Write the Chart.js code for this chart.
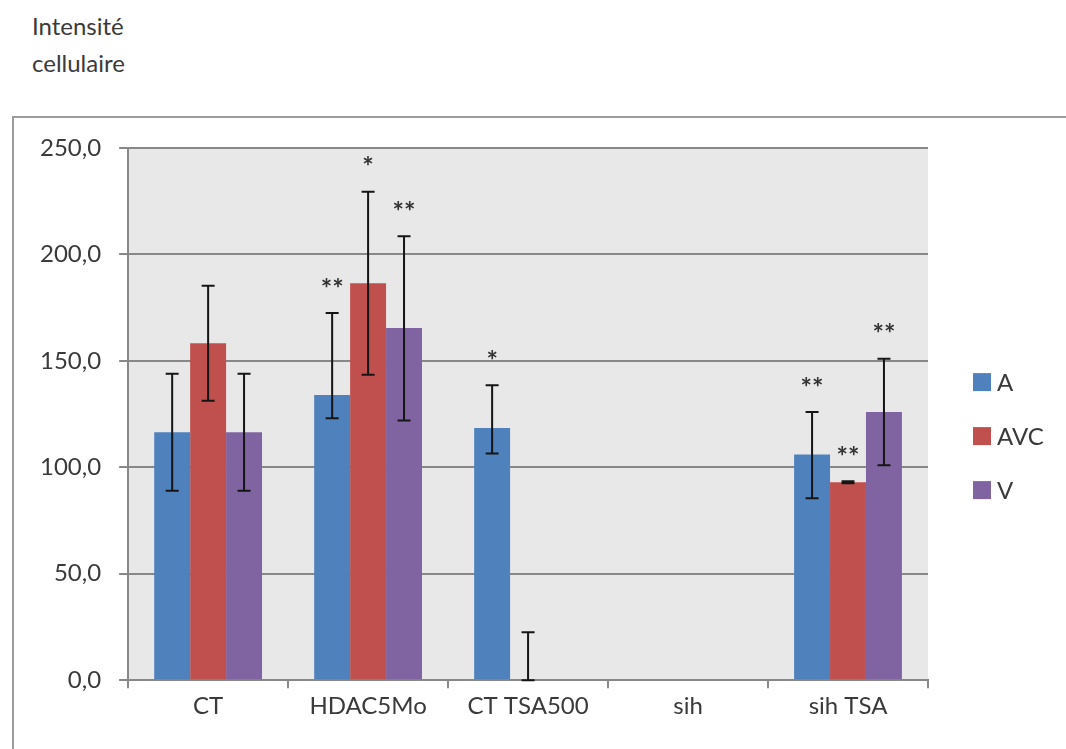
<!DOCTYPE html>
<html>
<head>
<meta charset="utf-8">
<script src="https://cdn.jsdelivr.net/npm/chart.js@4.4.1/dist/chart.umd.min.js"></script>
<style>
    body { margin: 0; background: #fff; overflow: hidden; }
    #titre { position: absolute; left: 32px; top: 7px; font: 24px Lato; line-height: 37px; color: #3a3a3a; }
    #cadre { position: absolute; left: 12px; top: 116px; width: 1100px; height: 700px; border: 2px solid #9c9c9c; }
    #graphe { position: absolute; left: 0; top: 0; }
</style>
</head>
<body>
<div id="titre">Intensité<br>cellulaire</div>
<div id="cadre"></div>
<canvas id="graphe" width="1066" height="749"></canvas>
<script>
// données
var categories = ['CT', 'HDAC5Mo', 'CT TSA500', 'sih', 'sih TSA'];
var series = ['A', 'AVC', 'V'];
var couleurs = ['#4F81BD', '#C0504D', '#8064A2'];

var valeursA   = [116.5, 134.0, 118.5, null, 106.0];
var valeursAVC = [158.3, 186.5, 0, null, 93.0];
var valeursV   = [116.5, 165.5, null, null, 126.0];

// barres d'erreur (plus / moins)
var errPlusA   = [27.5, 38.5, 20.0, null, 20.0];
var errMoinsA  = [27.5, 11.0, 12.0, null, 20.5];
var errPlusAVC = [27.0, 43.0, 22.5, null, 0.5];
var errMoinsAVC = [27.0, 43.0, 0, null, 0.5];
var errPlusV   = [27.5, 43.0, null, null, 25.0];
var errMoinsV  = [27.5, 43.5, null, null, 25.0];

// significativité
var etoilesA   = ['', '**', '*', '', '**'];
var etoilesAVC = ['', '*', '', '', '**'];
var etoilesV   = ['', '**', '', '', '**'];

var graduations = [0, 50, 100, 150, 200, 250];

var police = 'Lato';
var gris = '#3a3a3a';

var fondGraphe = {
    id: 'fondGraphe',
    beforeDraw: function (chart) {
        var a = chart.chartArea, ctx = chart.ctx;
        ctx.save();
        ctx.fillStyle = '#e8e8e8';
        ctx.fillRect(a.left, a.top, a.right - a.left, a.bottom - a.top);
        ctx.restore();
    }
};

var barresErreur = {
    id: 'barresErreur',
    afterDatasetsDraw: function (chart) {
        var ctx = chart.ctx, y = chart.scales.y;
        ctx.save();
        chart.data.datasets.forEach(function (ds, i) {
            var meta = chart.getDatasetMeta(i);
            meta.data.forEach(function (bar, j) {
                var v = ds.data[j];
                if (v === null || ds.errPlus[j] === null) return;
                var haut = y.getPixelForValue(v + ds.errPlus[j]);
                var bas = y.getPixelForValue(v - ds.errMoins[j]);
                ctx.strokeStyle = '#151515';
                ctx.lineWidth = 2;
                ctx.beginPath();
                ctx.moveTo(bar.x, haut); ctx.lineTo(bar.x, bas);
                ctx.moveTo(bar.x - 6.5, haut); ctx.lineTo(bar.x + 6.5, haut);
                ctx.moveTo(bar.x - 6.5, bas); ctx.lineTo(bar.x + 6.5, bas);
                ctx.stroke();
                if (ds.etoiles[j]) {
                    ctx.fillStyle = '#333';
                    ctx.font = 'bold 27px ' + police;
                    ctx.textAlign = 'center';
                    ctx.textBaseline = 'middle';
                    ctx.fillText(ds.etoiles[j], bar.x, haut - 24);
                }
            });
        });
        ctx.restore();
    }
};

var legende = {
    id: 'legende',
    afterDraw: function (chart) {
        var ctx = chart.ctx, a = chart.chartArea;
        var x = a.right + 45;
        var milieu = (a.top + a.bottom) / 2 + 22;
        ctx.save();
        chart.data.datasets.forEach(function (ds, i) {
            var cy = milieu + (i - 1) * 54;
            ctx.fillStyle = ds.backgroundColor;
            ctx.fillRect(x, cy - 9, 18, 18);
            ctx.fillStyle = gris;
            ctx.font = '24px ' + police;
            ctx.textAlign = 'left';
            ctx.textBaseline = 'middle';
            ctx.fillText(ds.label, x + 24, cy + 1);
        });
        ctx.restore();
    }
};

var valeurs = [valeursA, valeursAVC, valeursV];
var plus = [errPlusA, errPlusAVC, errPlusV];
var moins = [errMoinsA, errMoinsAVC, errMoinsV];
var etoiles = [etoilesA, etoilesAVC, etoilesV];

var jeux = series.map(function (nom, i) {
    return {
        label: nom,
        data: valeurs[i],
        backgroundColor: couleurs[i],
        errPlus: plus[i],
        errMoins: moins[i],
        etoiles: etoiles[i],
        barPercentage: 1,
        categoryPercentage: 0.674
    };
});

var chart = new Chart(document.getElementById('graphe'), {
    type: 'bar',
    data: { labels: categories, datasets: jeux },
    options: {
        responsive: false,
        animation: false,
        layout: { padding: { left: 22, right: 138, top: 148, bottom: 24 } },
        plugins: { legend: { display: false }, tooltip: { enabled: false } },
        scales: {
            x: {
                grid: { offset: true, drawOnChartArea: false, drawTicks: true, tickLength: 8, color: '#888', lineWidth: 2 },
                border: { color: '#888', width: 2 },
                ticks: { color: gris, font: { family: police, size: 24 }, padding: 4, maxRotation: 0 }
            },
            y: {
                min: 0,
                max: 250,
                afterBuildTicks: function (axis) {
                    axis.ticks = graduations.map(function (v) { return { value: v }; });
                },
                grid: { color: '#888', lineWidth: 2, tickLength: 9 },
                border: { color: '#888', width: 2 },
                ticks: {
                    color: gris,
                    font: { family: police, size: 24 },
                    padding: 18,
                    callback: function (v) { return v.toFixed(1).replace('.', ','); }
                }
            }
        }
    },
    plugins: [fondGraphe, barresErreur, legende]
});
</script>
</body>
</html>
